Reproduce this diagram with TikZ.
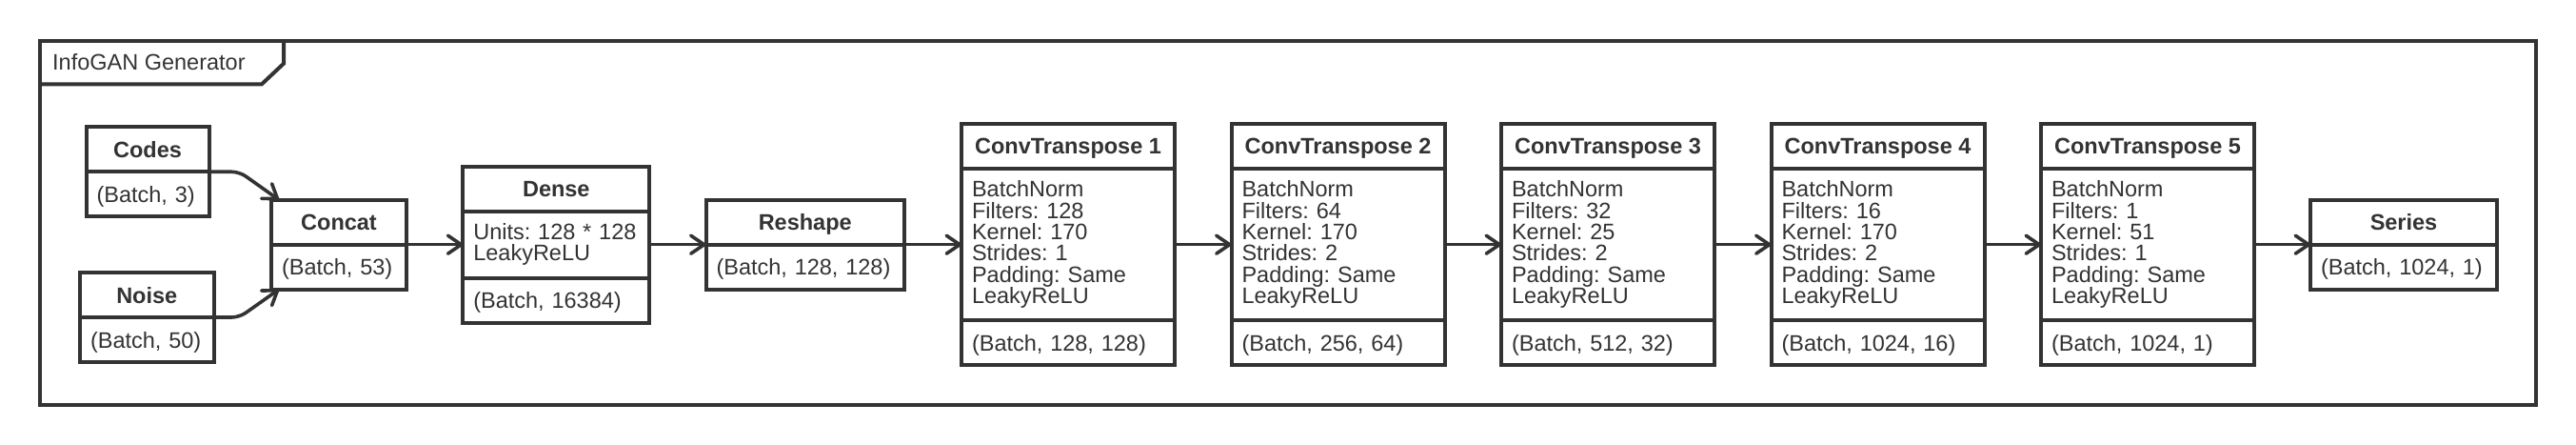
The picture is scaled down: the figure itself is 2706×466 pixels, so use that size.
\documentclass[tikz,border=0pt]{standalone}
\usepackage{fontspec}
\setmainfont{Liberation Sans}
\usepackage{tikz}
\usetikzlibrary{positioning}
\usetikzlibrary{arrows.meta}
\definecolor{ink}{HTML}{333333}
\newcommand{\layerfont}{\fontsize{23.5pt}{22.4pt}\selectfont\frenchspacing}

\begin{document}
\begin{tikzpicture}[x=1pt, y=1pt,
		frame/.style={draw=ink, line width=4pt},
		lhead/.style={draw=ink, line width=4pt, fill=white, outer sep=0pt, minimum width=#1, minimum height=47pt, text depth=0pt, font=\layerfont\bfseries, text=ink},
		lpart/.style={draw=ink, line width=4pt, fill=white, outer sep=0pt, inner xsep=11pt, text width=#1-22pt, align=left, minimum height=47pt, font=\layerfont, text=ink},
		lfoot/.style={lpart=#1, text depth=0pt},
		conn/.style={draw=ink, line width=3.6pt, rounded corners=8pt, -{Straight Barb[length=14pt, width=19pt, round]}}]
				\useasboundingbox (0, 0) rectangle (2706, 466);
				% Frame and title tab:
				\draw[frame] (42, 423) rectangle (2664, 41);
				\draw[frame] (42, 377.7) -- (275, 377.7) -- (298, 399.3) -- (298, 423);
				\node[anchor=base west, inner sep=0pt, font=\layerfont, text=ink](Title) at (55, 392.7){InfoGAN Generator};
				% Inputs:
				\node[lhead=129pt, anchor=south west](CodesH) at (90.5, 285.7){Codes};
				\node[lfoot=129pt, below=0pt of CodesH](CodesF){(Batch, 3)};
				\node[lhead=140.5pt, anchor=south west](NoiseH) at (84, 133){Noise};
				\node[lfoot=140.5pt, below=0pt of NoiseH](NoiseF){(Batch, 50)};
				\node[lhead=142pt, anchor=south west](ConcatH) at (285, 209.3){Concat};
				\node[lfoot=142pt, below=0pt of ConcatH](ConcatF){(Batch, 53)};
				% Dense and reshape:
				\node[lpart=196pt, minimum height=70pt, anchor=west](DenseB) at (486.3, 209.3){Units: 128 * 128\\LeakyReLU};
				\node[lhead=196pt, above=0pt of DenseB](DenseH){Dense};
				\node[lfoot=196pt, below=0pt of DenseB](DenseF){(Batch, 16384)};
				\node[lhead=208.5pt, anchor=south west](ReshapeH) at (741.5, 209.3){Reshape};
				\node[lfoot=208.5pt, below=0pt of ReshapeH](ReshapeF){(Batch, 128, 128)};
				% Transposed convolutions:
				\node[lpart=224pt, minimum height=159.4pt, anchor=west](T1B) at (1010, 209.3){BatchNorm\\Filters: 128\\Kernel: 170\\Strides: 1\\Padding: Same\\LeakyReLU};
				\node[lhead=224pt, above=0pt of T1B](T1H){ConvTranspose 1};
				\node[lfoot=224pt, below=0pt of T1B](T1F){(Batch, 128, 128)};
				\node[lpart=224pt, minimum height=159.4pt, anchor=west](T2B) at (1293.5, 209.3){BatchNorm\\Filters: 64\\Kernel: 170\\Strides: 2\\Padding: Same\\LeakyReLU};
				\node[lhead=224pt, above=0pt of T2B](T2H){ConvTranspose 2};
				\node[lfoot=224pt, below=0pt of T2B](T2F){(Batch, 256, 64)};
				\node[lpart=224pt, minimum height=159.4pt, anchor=west](T3B) at (1577, 209.3){BatchNorm\\Filters: 32\\Kernel: 25\\Strides: 2\\Padding: Same\\LeakyReLU};
				\node[lhead=224pt, above=0pt of T3B](T3H){ConvTranspose 3};
				\node[lfoot=224pt, below=0pt of T3B](T3F){(Batch, 512, 32)};
				\node[lpart=224pt, minimum height=159.4pt, anchor=west](T4B) at (1860.5, 209.3){BatchNorm\\Filters: 16\\Kernel: 170\\Strides: 2\\Padding: Same\\LeakyReLU};
				\node[lhead=224pt, above=0pt of T4B](T4H){ConvTranspose 4};
				\node[lfoot=224pt, below=0pt of T4B](T4F){(Batch, 1024, 16)};
				\node[lpart=224pt, minimum height=159.4pt, anchor=west](T5B) at (2144, 209.3){BatchNorm\\Filters: 1\\Kernel: 51\\Strides: 1\\Padding: Same\\LeakyReLU};
				\node[lhead=224pt, above=0pt of T5B](T5H){ConvTranspose 5};
				\node[lfoot=224pt, below=0pt of T5B](T5F){(Batch, 1024, 1)};
				% Output:
				\node[lhead=196pt, anchor=south west](SeriesH) at (2427, 209.3){Series};
				\node[lfoot=196pt, below=0pt of SeriesH](SeriesF){(Batch, 1024, 1)};
				% Connectors:
				\draw[conn] (CodesF.north east) -- ++(32, 0) -- ([xshift=8pt]ConcatH.north west);
				\draw[conn] (NoiseF.north east) -- ++(27, 0) -- ([xshift=8pt]ConcatF.south west);
				\draw[conn] (ConcatF.north east) -- (DenseB.west);
				\draw[conn] (DenseB.east) -- (ReshapeF.north west);
				\draw[conn] (ReshapeF.north east) -- (T1B.west);
				\draw[conn] (T1B.east) -- (T2B.west);
				\draw[conn] (T2B.east) -- (T3B.west);
				\draw[conn] (T3B.east) -- (T4B.west);
				\draw[conn] (T4B.east) -- (T5B.west);
				\draw[conn] (T5B.east) -- (SeriesF.north west);
			\end{tikzpicture}
\end{document}
